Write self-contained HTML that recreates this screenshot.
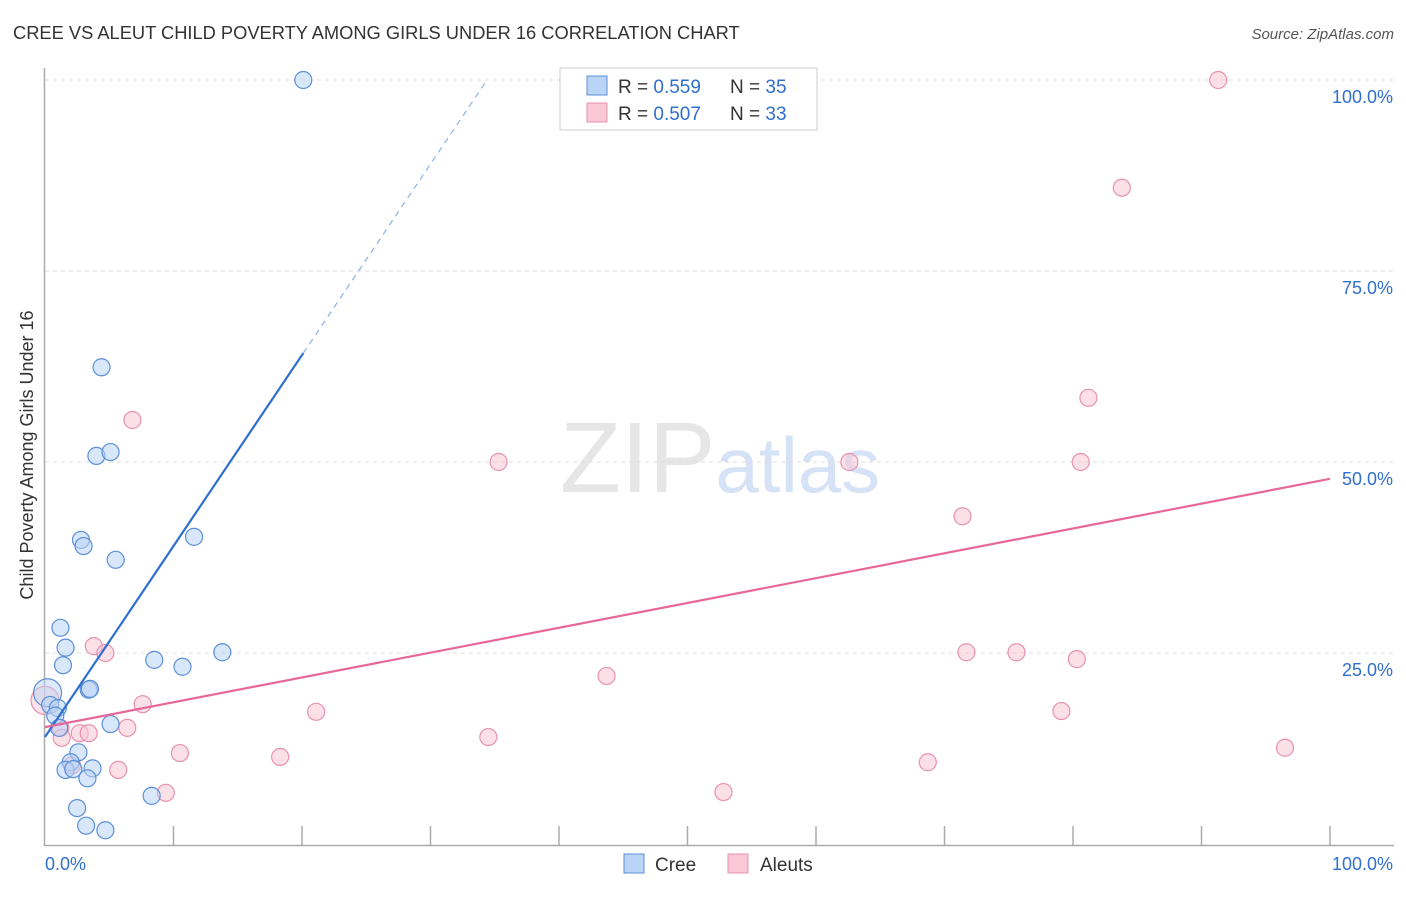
<!DOCTYPE html>
<html><head><meta charset="utf-8"><style>
body{margin:0;background:#fff;font-family:"Liberation Sans",sans-serif}
svg text{font-family:"Liberation Sans",sans-serif}
</style></head><body>
<svg id="chart" width="1406" height="892" xmlns="http://www.w3.org/2000/svg">
<text x="13" y="39" font-size="18.3" fill="#333">CREE VS ALEUT CHILD POVERTY AMONG GIRLS UNDER 16 CORRELATION CHART</text>
<text x="1394" y="39" font-size="15" fill="#555" text-anchor="end" font-style="italic">Source: ZipAtlas.com</text>
<text x="720" y="492" font-size="100" text-anchor="middle" fill="#e6e6e6" font-family="Liberation Serif">ZIP<tspan fill="#d6e2f5" font-family="Liberation Sans" font-size="78">atlas</tspan></text>
<text transform="translate(33,455) rotate(-90)" font-size="18" fill="#333" text-anchor="middle">Child Poverty Among Girls Under 16</text>
<g id="grid"></g>
<g id="axes"></g>
<g id="pts"></g>
<g id="trend"></g>
<g>
<rect x="560" y="68" width="257" height="62" fill="#fff" stroke="#ccc"/>
<rect x="587" y="76" width="20" height="19" fill="#b9d4f5" stroke="#5b8fd8"/>
<rect x="587" y="103" width="20" height="19" fill="#f9c7d6" stroke="#e891ae"/>
<text x="618" y="93" font-size="19" fill="#333">R = <tspan fill="#2f6fce">0.559</tspan></text>
<text x="730" y="93" font-size="19" fill="#333">N = <tspan fill="#2f6fce">35</tspan></text>
<text x="618" y="120" font-size="19" fill="#333">R = <tspan fill="#2f6fce">0.507</tspan></text>
<text x="730" y="120" font-size="19" fill="#333">N = <tspan fill="#2f6fce">33</tspan></text>
</g>
<g>
<rect x="624" y="854" width="20" height="19" fill="#b9d4f5" stroke="#5b8fd8"/>
<text x="655" y="871" font-size="19" fill="#333">Cree</text>
<rect x="728" y="854" width="20" height="19" fill="#f9c7d6" stroke="#e891ae"/>
<text x="760" y="871" font-size="19" fill="#333">Aleuts</text>
</g>
</svg>
<script>
const yTicks=[25,50,75,100];
const yTickLabels=["25.0%","50.0%","75.0%","100.0%"];
const xLabels=["0.0%","100.0%"];
const creeX=[20.1,4.4,4.0,5.1,2.8,3.0,5.5,11.6,1.2,1.6,1.4,8.5,10.7,13.8,3.4,3.5,0.2,0.4,1.0,0.8,5.1,1.1,2.6,2.0,1.6,2.2,3.7,3.3,8.3,2.5,3.2,4.7];
const creeY=[100,62.4,50.8,51.3,39.8,39.0,37.2,40.2,28.3,25.7,23.4,24.1,23.2,25.1,20.2,20.3,19.8,18.2,17.8,16.8,15.7,15.2,12.0,10.7,9.7,9.8,9.9,8.6,6.3,4.7,2.4,1.8];
const aleutX=[91.3,83.8,81.2,6.8,35.3,62.6,80.6,71.4,3.8,4.7,71.7,75.6,80.3,43.7,7.6,21.1,79.1,6.4,1.2,2.7,3.4,1.3,34.5,10.5,18.3,96.5,2.1,5.7,68.7,52.8,9.4,0];
const aleutY=[100,85.9,58.4,55.5,50,50,50,42.9,25.9,25,25.1,25.1,24.2,22,18.3,17.3,17.4,15.2,15.2,14.5,14.5,13.9,14,11.9,11.4,12.6,10.3,9.7,10.7,6.8,6.7,18.8];
const creeTrend=[14.0,2.5];
const aleutTrend=[15.3,0.325];
const X=v=>45+v*12.85, Y=v=>844-v*7.64;
const NS="http://www.w3.org/2000/svg";
function mk(t,a,p){const e=document.createElementNS(NS,t);for(const k in a)e.setAttribute(k,a[k]);p.appendChild(e);return e;}
const grid=document.getElementById('grid'),axes=document.getElementById('axes'),pts=document.getElementById('pts'),tr=document.getElementById('trend');
yTicks.forEach((t,i)=>{
 const l=mk('line',{x1:45,x2:1394,y1:Y(t),y2:Y(t),stroke:'#ddd','stroke-dasharray':'4,4'},grid);
 
 
 const tx=mk('text',{x:1393,y:Y(t)+23,'font-size':18,fill:'#2f6fce','text-anchor':'end'},grid);
 tx.textContent=yTickLabels[i];
 
 
});
const ax=mk('path',{d:'M44.5,68V845.5H1394',fill:'none',stroke:'#aaa','stroke-width':1.5},axes);


for(let i=1;i<=10;i++){
 const t=mk('line',{x1:X(i*10),x2:X(i*10),y1:826,y2:845,stroke:'#aaa','stroke-width':1.5},axes);
 
 
}
[[0,'start'],[100,'end']].forEach((d,i)=>{
 const t=mk('text',{x:i?1393:45,y:870,'font-size':18,fill:'#2f6fce','text-anchor':d[1]},axes);
 t.textContent=xLabels[i];
 
 
});
function dots(xs,ys,fill,stroke,name){xs.forEach((x,i)=>{
 const big=(x<=0.2&&ys[i]>18&&ys[i]<20);
 const c=mk('circle',{cx:X(x),cy:Y(ys[i]),r:big?14:8.5,fill:fill,'fill-opacity':big?0.5:0.55,stroke:stroke,'stroke-width':1.2},pts);
 
 
});}
dots(aleutX,aleutY,'#f9c7d6','#e891ae','aleut-point');
dots(creeX,creeY,'#b9d4f5','#5b8fd8','cree-point');
const bl=mk('line',{x1:X(0),y1:Y(creeTrend[0]),x2:X(20.1),y2:Y(creeTrend[0]+creeTrend[1]*20.1),stroke:'#2f6fce','stroke-width':2.2},tr);


const xe=(100-creeTrend[0])/creeTrend[1];
const bd=mk('line',{x1:X(20.1),y1:Y(creeTrend[0]+creeTrend[1]*20.1),x2:X(xe),y2:Y(100),stroke:'#8fb2e6','stroke-width':1.2,'stroke-dasharray':'6,5'},tr);


const pl=mk('line',{x1:X(0),y1:Y(aleutTrend[0]),x2:X(100),y2:Y(aleutTrend[0]+aleutTrend[1]*100),stroke:'#e8679a','stroke-width':2.2},tr);


</script>
</body></html>
